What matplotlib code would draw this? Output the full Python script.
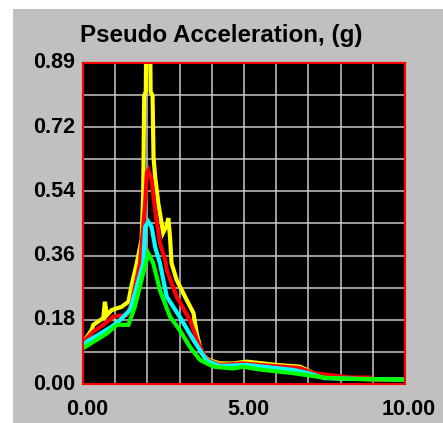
import matplotlib
matplotlib.use("Agg")
import matplotlib.pyplot as plt
from matplotlib.patches import Rectangle

TITLE = "Pseudo Acceleration, (g)"
Y_TICKS = [0.0, 0.178, 0.356, 0.534, 0.712, 0.89]
Y_TICK_LABELS = ["0.00", "0.18", "0.36", "0.54", "0.72", "0.89"]
X_TICKS = [0, 5, 10]
X_TICK_LABELS = ["0.00", "5.00", "10.00"]

# yellow curve (highest, peak goes off the top)
yel_x = [0.0, 0.06, 0.27, 0.32, 0.63, 0.68, 0.74, 0.89, 1.2, 1.41, 1.51, 1.67, 1.82, 1.87,
         1.90, 1.95, 1.97, 2.08, 2.10, 2.16, 2.19, 2.24, 2.34, 2.49, 2.6, 2.65, 2.7, 2.75, 2.91,
         3.22, 3.43, 3.53, 3.68, 3.89, 4.25, 4.67, 5.08, 5.5, 6.0, 6.74, 6.95, 7.15, 7.36,
         8.0, 9.0, 10.0]
yel_y = [0.12, 0.122, 0.15, 0.164, 0.183, 0.228, 0.191, 0.205, 0.214, 0.228, 0.274, 0.335, 0.40, 0.53,
         0.80, 0.81, 1.0, 1.0, 0.81, 0.80, 0.63, 0.575, 0.50, 0.42, 0.44, 0.46, 0.41, 0.335, 0.288,
         0.233, 0.197, 0.141, 0.086, 0.067, 0.057, 0.057, 0.062, 0.058, 0.053, 0.048, 0.039, 0.030, 0.020,
         0.015, 0.013, 0.012]

red_x = [0.0, 0.32, 0.63, 0.94, 1.36, 1.51, 1.77, 1.93, 1.98, 2.03, 2.13, 2.24, 2.39, 2.55, 2.6,
         2.91, 3.32, 3.58, 3.84, 4.25, 4.97, 5.5, 6.74, 7.15, 8.3, 8.9, 9.0, 10.0]
red_y = [0.115, 0.145, 0.164, 0.187, 0.191, 0.224, 0.335, 0.50, 0.584, 0.593, 0.566, 0.482, 0.39, 0.344, 0.316,
         0.242, 0.177, 0.113, 0.067, 0.053, 0.057, 0.053, 0.044, 0.030, 0.018, 0.018, 0.012, 0.012]

cyan_x = [0.0, 0.11, 0.89, 1.15, 1.46, 1.61, 1.87, 1.93, 2.03, 2.13, 2.24, 2.39, 2.6, 3.0, 3.43,
          3.84, 4.25, 5.08, 6.53, 7.0, 7.5, 10.0]
cyan_y = [0.105, 0.117, 0.159, 0.177, 0.205, 0.251, 0.335, 0.436, 0.45, 0.436, 0.38, 0.335, 0.242, 0.187, 0.122,
          0.065, 0.05, 0.053, 0.039, 0.03, 0.016, 0.012]

green_x = [0.0, 0.32, 0.74, 1.05, 1.41, 1.61, 1.87, 2.03, 2.18, 2.39, 2.7, 3.0, 3.32, 3.63, 4.05,
           4.67, 4.97, 5.5, 6.53, 7.15, 7.57, 8.4, 10.0]
green_y = [0.099, 0.117, 0.14, 0.164, 0.164, 0.214, 0.307, 0.362, 0.335, 0.26, 0.187, 0.15, 0.103, 0.067, 0.048,
           0.043, 0.048, 0.04, 0.03, 0.022, 0.017, 0.014, 0.012]

plt.rcParams["font.family"] = ["Liberation Sans", "DejaVu Sans"]

fig = plt.figure(figsize=(4.43, 4.23), dpi=100)
fig.patch.set_facecolor("white")
fig.patches.append(Rectangle((13 / 443, 0), 1, 1 - 9 / 423, transform=fig.transFigure,
                             facecolor="#c0c0c0", edgecolor="none", zorder=-10))

ax = fig.add_axes([83 / 443, 1 - 384 / 423, 322 / 443, 321 / 423])
ax.set_zorder(2)
ax.set_facecolor("black")
ax.set_xlim(0, 10)
ax.set_ylim(0, 0.89)

for s in ax.spines.values():
    s.set_color("red")
    s.set_linewidth(1.5)
    s.set_zorder(5)

ax.set_xticks(range(11))
ax.set_yticks([0.089 * i for i in range(11)])
ax.grid(True, color="#c8c8c8", linewidth=1.1)
ax.set_axisbelow(True)
ax.tick_params(length=0, labelleft=False, labelbottom=False)

for xs, ys, c in [(yel_x, yel_y, "#ffff00"), (red_x, red_y, "#ff0000"),
                  (cyan_x, cyan_y, "#00ffff"), (green_x, green_y, "#00ff00")]:
    ax.plot(xs, ys, color=c, linewidth=3.0, solid_joinstyle="miter", zorder=3)

for v, lab in zip(Y_TICKS, Y_TICK_LABELS):
    ax.annotate(lab, (0, v), xycoords=("axes fraction", "data"), xytext=(-8, 0),
                textcoords="offset pixels", ha="right", va="center",
                fontsize=15.5, fontweight="bold", annotation_clip=False)
for v, lab in zip(X_TICKS, X_TICK_LABELS):
    ax.annotate(lab, (v, 0), xycoords=("data", "axes fraction"), xytext=(4, -15),
                textcoords="offset pixels", ha="center", va="top",
                fontsize=15.5, fontweight="bold", annotation_clip=False)

fig.text(221.5 / 443, 1 - 42 / 423, TITLE, ha="center", va="baseline",
         fontsize=17.4, fontweight="bold")

fig.savefig("out.png", dpi=100, facecolor=fig.get_facecolor())
